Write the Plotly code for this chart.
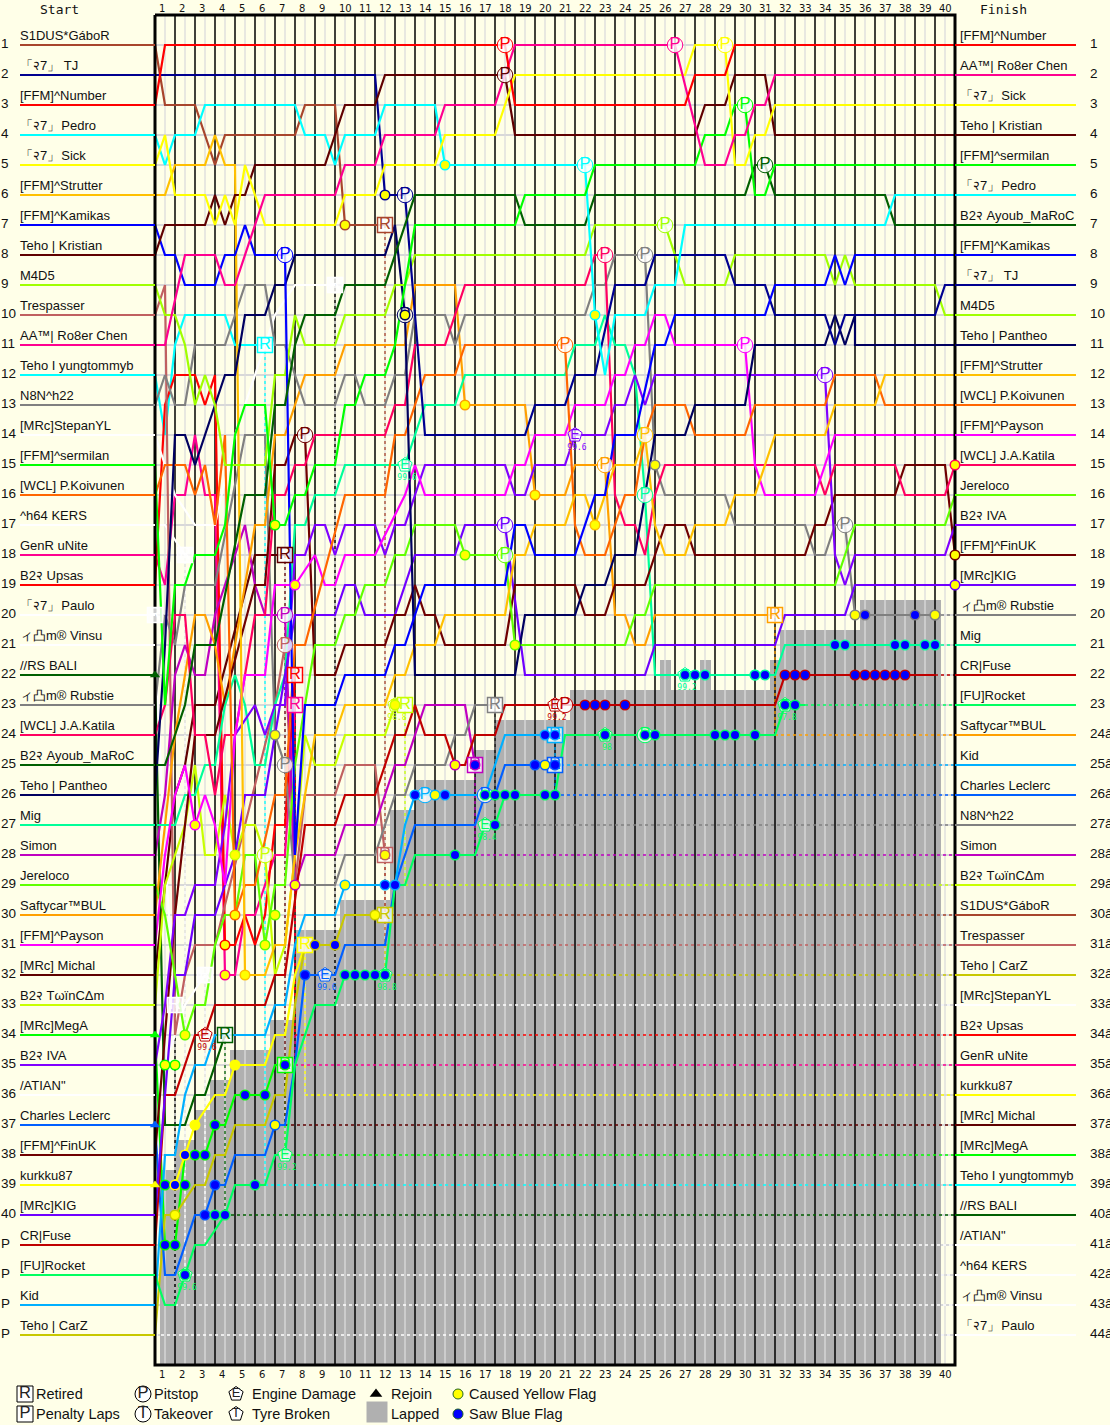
"""Lap chart: race positions per half lap for a 40 lap race."""
import plotly.graph_objects as go

CREAM = "#ffffe8"
LAPPED = "#b0b0b0"
NAME_FONT = "Liberation Sans"

start_names = [
    "S1DUS*GáboR", "「२7」 TJ", "[FFM]^Number", "「२7」\u200aPedro", "「२7」\u200aSick", "[FFM]^Strutter",
    "[FFM]^Kamikas", "Teho | Kristian", "M4D5", "Trespasser", "AA™| Ro8er Chen", "Teho I yungtommyb",
    "N8N^h22", "[MRc]StepanYL", "[FFM]^sermilan", "[WCL] P.Koivunen", "^h64 KERS", "GenR uNite",
    "B2२ Upsas", "「२7」\u200aPaulo", "ィ凸m® Vinsu", "//RS BALI", "ィ凸m® Rubstie", "[WCL] J.A.Katila",
    "B2२ Ayoub_MaRoC", "Teho | Pantheo", "Mig", "Simon", "Jereloco", "Saftycar™BUL",
    "[FFM]^Payson", "[MRc] Michal", "B2२ TωïnCΔm", "[MRc]MegA", "B2२ IVA", "/ATIAN\"",
    "Charles Leclerc", "[FFM]^FinUK", "kurkku87", "[MRc]KIG", "CR|Fuse", "[FU]Rocket",
    "Kid", "Teho | CarZ",
]
finish_names = [
    "[FFM]^Number", "AA™| Ro8er Chen", "「२7」\u200aSick", "Teho | Kristian", "[FFM]^sermilan", "「२7」\u200aPedro",
    "B2२ Ayoub_MaRoC", "[FFM]^Kamikas", "「२7」 TJ", "M4D5", "Teho | Pantheo", "[FFM]^Strutter",
    "[WCL] P.Koivunen", "[FFM]^Payson", "[WCL] J.A.Katila", "Jereloco", "B2२ IVA", "[FFM]^FinUK",
    "[MRc]KIG", "ィ凸m® Rubstie", "Mig", "CR|Fuse", "[FU]Rocket", "Saftycar™BUL",
    "Kid", "Charles Leclerc", "N8N^h22", "Simon", "B2२ TωïnCΔm", "S1DUS*GáboR",
    "Trespasser", "Teho | CarZ", "[MRc]StepanYL", "B2२ Upsas", "GenR uNite", "kurkku87",
    "[MRc] Michal", "[MRc]MegA", "Teho I yungtommyb", "//RS BALI", "/ATIAN\"", "^h64 KERS",
    "ィ凸m® Vinsu", "「२7」\u200aPaulo",
]

# paths: half lap index (0 = start, 80 = flag) and position at that half lap
number_k = [0, 1, 35, 36, 53, 54, 57, 58, 80]
number_r = [3, 1, 1, 3, 3, 2, 2, 1, 1]
gabor_k = [0, 1, 4, 6, 7, 14, 15, 18, 19, 23]
gabor_r = [1, 3, 3, 5, 4, 4, 3, 3, 7, 7]
kristian_k = [0, 1, 5, 6, 7, 8, 9, 10, 17, 19, 22, 23, 35, 36, 54, 55, 57, 58, 61, 62, 80]
kristian_r = [8, 7, 7, 6, 7, 6, 6, 5, 5, 3, 3, 2, 2, 4, 4, 3, 3, 2, 2, 4, 4]
tj_k = [0, 22, 23, 25, 27, 37, 38, 41, 42, 44, 46, 49, 50, 57, 58, 61, 62, 67, 68, 69, 78, 79, 80]
tj_r = [2, 2, 6, 6, 14, 14, 13, 13, 12, 12, 9, 9, 8, 8, 9, 9, 10, 10, 11, 10, 10, 9, 9]
pedro_k = [0, 1, 2, 4, 5, 14, 15, 17, 18, 19, 22, 23, 28, 29, 43, 44, 45, 46, 49, 50, 52, 53, 73, 74, 80]
pedro_r = [4, 5, 4, 4, 3, 3, 4, 4, 5, 4, 4, 3, 3, 5, 5, 10, 12, 10, 10, 9, 9, 7, 7, 6, 6]
sick_k = [0, 1, 2, 5, 6, 7, 8, 9, 10, 11, 18, 19, 22, 23, 28, 29, 34, 36, 53, 54, 57, 58, 59, 60, 61, 62, 80]
sick_r = [5, 4, 6, 6, 7, 6, 7, 5, 6, 7, 7, 6, 6, 5, 5, 4, 4, 2, 2, 1, 1, 5, 5, 4, 4, 3, 3]
strutter_k = [0, 1, 2, 5, 6, 7, 8, 9, 11, 12, 13, 14, 15, 16, 18, 19, 23, 24, 25, 26, 28, 29, 35, 36, 37, 38, 41,
              42, 43, 44, 45, 46, 48, 49, 50, 51, 53, 54, 57, 58, 60, 62, 67, 68, 72, 73, 80]
strutter_r = [6, 6, 5, 5, 4, 5, 5, 32, 32, 31, 31, 28, 26, 24, 24, 23, 23, 22, 22, 21, 21, 20, 20, 18, 18, 17, 17,
              16, 16, 17, 16, 15, 15, 14, 17, 18, 18, 17, 17, 16, 16, 14, 14, 13, 13, 12, 12]
kamikas_k = [0, 1, 2, 3, 6, 7, 8, 9, 10, 13, 14, 15, 18, 19, 23, 24, 25, 27, 35, 36, 37, 38, 42, 44, 45, 46, 48,
             50, 51, 52, 61, 62, 67, 68, 69, 70, 80]
kamikas_r = [7, 8, 8, 9, 9, 8, 8, 7, 8, 8, 28, 23, 23, 22, 22, 21, 21, 19, 19, 17, 17, 18, 18, 16, 16, 14, 14,
             11, 11, 10, 10, 9, 9, 8, 9, 8, 8]
m4d5_k = [0, 1, 2, 3, 4, 5, 6, 7, 8, 11, 12, 13, 14, 15, 18, 19, 23, 24, 25, 26, 43, 44, 51, 53, 57, 58, 67, 68,
          69, 70, 78, 79, 80]
m4d5_r = [9, 10, 10, 11, 13, 12, 13, 15, 15, 15, 12, 12, 10, 11, 11, 10, 10, 9, 9, 8, 8, 7, 7, 9, 9, 8, 8, 9,
          8, 9, 9, 10, 10]
trespasser_k = [0, 1, 2, 3, 4, 6, 12, 13, 14, 15, 18, 19, 22, 23]
trespasser_r = [10, 9, 34, 32, 31, 31, 23, 21, 29, 26, 26, 25, 25, 28]
roser_k = [0, 1, 3, 6, 7, 8, 11, 18, 19, 22, 23, 28, 29, 34, 36, 52, 55, 57, 58, 59, 60, 61, 62, 80]
roser_r = [11, 11, 8, 8, 9, 9, 6, 6, 5, 5, 4, 4, 3, 3, 1, 1, 5, 5, 4, 4, 3, 3, 2, 2]
yung_k = [0, 1, 2, 3, 7, 8, 11]
yung_r = [12, 14, 11, 10, 10, 11, 11]
n8n_k = [0, 1, 2, 3, 4, 7, 9, 11, 12, 13, 14, 15, 18, 19, 20, 21, 23, 24, 25, 26, 29, 30, 31, 43, 44, 45, 46, 49,
         50, 51, 57, 58, 65, 66, 67, 68, 69, 70, 78]
n8n_r = [13, 12, 13, 13, 11, 11, 9, 9, 11, 11, 12, 13, 13, 12, 12, 13, 13, 12, 12, 10, 10, 11, 10, 10, 9, 9, 8, 8,
         15, 16, 16, 17, 17, 18, 18, 17, 17, 20, 20]
stepan_k = [0, 2, 4, 6, 8, 11, 12, 14, 18]
stepan_r = [14, 16, 17, 17, 14, 11, 10, 9, 9]
sermilan_k = [0, 1, 2, 3, 4, 6, 7, 8, 9, 11, 12, 13, 14, 15, 16, 18, 19, 20, 21, 23, 24, 26, 36, 37, 43, 44, 54,
              55, 57, 58, 59, 60, 61, 62, 80]
sermilan_r = [15, 23, 19, 19, 18, 18, 17, 14, 13, 13, 17, 17, 16, 16, 15, 15, 13, 13, 12, 12, 11, 7, 7, 6, 6, 5, 5,
              4, 4, 3, 3, 6, 6, 5, 5]
koivunen_k = [0, 1, 3, 4, 5, 6, 7, 8, 9, 10, 12, 13, 14, 15, 19, 23, 24, 25, 27, 30, 31, 41, 42, 43, 45, 46, 47,
              48, 49, 50, 53, 54, 59, 60, 67, 68, 72, 73, 80]
koivunen_r = [16, 15, 15, 16, 15, 17, 14, 30, 29, 29, 26, 26, 21, 21, 16, 16, 14, 14, 12, 12, 11, 11, 17, 18, 18, 17, 16,
              16, 14, 13, 13, 14, 14, 13, 13, 12, 12, 13, 13]
kers_k = [0, 1, 3]
kers_r = [17, 17, 18]
genr_k = [0, 1, 2, 3, 4, 5, 6, 7, 8, 9, 10, 11, 12, 13, 14]
genr_r = [18, 19, 16, 16, 14, 16, 16, 32, 32, 30, 30, 29, 28, 28, 23]
upsas_k = [0, 1, 2, 4, 5, 6, 7, 8, 9, 10, 11, 12, 13, 14]
upsas_r = [19, 13, 12, 12, 13, 12, 31, 31, 30, 31, 30, 27, 27, 22]
paulo_k = [0]
paulo_r = [20]
vinsu_k = [0, 1, 2]
vinsu_r = [21, 28, 33]
bali_k = [0, 1, 3, 4, 5, 7]
bali_r = [22, 37, 37, 36, 36, 34]
rubstie_k = [0, 1, 2, 3, 6, 9, 11, 12, 13, 14, 18, 19, 22, 24, 25, 26, 29, 30, 31, 32, 34]
rubstie_r = [23, 20, 21, 19, 19, 14, 14, 24, 25, 29, 29, 28, 28, 26, 26, 25, 25, 24, 24, 23, 23]
katila_k = [0, 1, 2, 3, 4, 5, 6, 7, 8, 9, 10, 11, 12, 13, 14, 15, 16, 23, 24, 25, 26, 29, 31, 43, 44, 45, 46, 47,
            48, 49, 50, 51, 66, 67, 68, 74, 75, 79, 80]
katila_r = [24, 23, 20, 20, 24, 24, 26, 24, 24, 22, 20, 20, 16, 16, 15, 15, 14, 14, 13, 13, 11, 11, 9, 9, 8, 8, 16, 17,
            17, 18, 16, 15, 15, 16, 15, 15, 16, 16, 15]
ayoub_k = [0, 1, 2, 3, 4, 6, 9, 11, 12, 13, 14, 15, 18, 19, 23, 26, 36, 37, 43, 44, 59, 60, 61, 62, 73, 74, 80]
ayoub_r = [25, 25, 24, 23, 21, 21, 16, 16, 13, 13, 11, 10, 10, 9, 9, 6, 6, 7, 7, 6, 6, 5, 5, 6, 6, 7, 7]
pantheo_k = [0, 1, 2, 3, 4, 7, 8, 9, 11, 12, 13, 14, 23, 24, 25, 26, 36, 37, 42, 43, 45, 46, 48, 50, 53, 54, 59, 60,
             67, 68, 69, 70, 70, 80]
pantheo_r = [26, 21, 14, 14, 15, 12, 12, 10, 10, 9, 9, 8, 8, 7, 10, 22, 22, 20, 20, 19, 19, 18, 18, 14, 14, 13, 13, 11,
             11, 10, 11, 10, 11, 11]
mig_k = [0, 2, 3, 4, 5, 6, 7, 8, 9, 10, 11, 12, 13, 14, 15, 16, 18, 19, 25, 27, 30, 31, 41, 42, 44, 45, 46, 47,
         48, 49, 50, 62, 63, 78]
mig_r = [27, 27, 26, 26, 25, 25, 23, 22, 23, 25, 25, 23, 22, 17, 17, 16, 16, 15, 15, 13, 13, 12, 12, 11, 11, 10, 11, 11,
         12, 16, 22, 22, 21, 21]
simon_k = [0, 1, 2, 3, 4, 5, 6, 9, 10, 11, 13, 14, 15, 18, 19, 22, 24, 25, 26, 27, 31, 32]
simon_r = [28, 26, 22, 21, 22, 22, 20, 17, 19, 20, 20, 29, 28, 28, 27, 27, 25, 25, 24, 23, 23, 25]
jereloco_k = [0, 1, 2, 3, 4, 5, 6, 7, 8, 9, 10, 11, 12, 13, 14, 15, 16, 18, 19, 20, 21, 23, 24, 25, 26, 30, 31, 35,
              36, 47, 48, 49, 50, 68, 70, 79, 80]
jereloco_r = [29, 30, 32, 34, 33, 33, 31, 30, 30, 28, 28, 31, 29, 29, 25, 23, 21, 21, 20, 20, 19, 19, 18, 18, 17, 17, 18, 18,
              21, 21, 20, 20, 19, 19, 17, 17, 16]
saftycar_k = [0, 1, 2, 3, 4, 5, 6, 7, 10, 11, 12, 13, 15, 18, 19, 25, 26, 30, 31, 37, 38, 41, 42, 45, 46, 47, 48, 49,
              50, 62]
saftycar_r = [30, 27, 24, 22, 20, 20, 21, 23, 17, 17, 14, 14, 12, 12, 11, 11, 9, 9, 13, 13, 16, 16, 15, 15, 20, 20, 21, 21,
              20, 20]
payson_k = [0, 1, 2, 3, 4, 5, 6, 7, 8, 9, 11, 12, 14, 16, 17, 18, 19, 22, 25, 26, 27, 35, 36, 37, 38, 41, 42, 45, 46,
            47, 48, 49, 50, 51, 52, 59, 60, 61, 66, 67, 68, 80]
payson_r = [31, 28, 26, 25, 27, 26, 27, 29, 24, 22, 22, 19, 19, 18, 19, 19, 18, 18, 16, 15, 16, 16, 15, 15, 14, 14, 13, 13, 12,
            12, 11, 11, 10, 10, 11, 11, 15, 16, 16, 15, 14, 14]
michal_k = [0, 1, 2, 3, 4, 6, 10, 13]
michal_r = [32, 29, 26, 25, 23, 23, 18, 18]
twincam_k = [0, 1, 2, 3, 4, 5, 6, 7, 8, 9, 10, 11, 12, 13, 14, 15, 16, 18, 19, 23, 24, 25]
twincam_r = [33, 29, 28, 27, 25, 28, 28, 26, 28, 27, 27, 28, 32, 31, 28, 24, 25, 25, 24, 24, 23, 23]
mega_k = [0, 1, 2, 3, 5, 6, 7, 8, 11, 12, 13]
mega_r = [34, 41, 41, 38, 38, 37, 37, 36, 36, 35, 35]
iva_k = [0, 1, 2, 3, 4, 6, 7, 8, 10, 11, 12, 13, 14, 15, 16, 17, 18, 19, 22, 23, 24, 25, 26, 27, 35, 36, 37, 38, 41, 42,
         45, 46, 47, 48, 49, 50, 67, 68, 69, 70, 79, 80]
iva_r = [35, 33, 30, 30, 29, 29, 27, 24, 23, 24, 23, 23, 18, 18, 17, 17, 18, 17, 17, 18, 17, 17, 16, 15, 15, 16, 16, 15, 15, 14,
         14, 13, 13, 12, 13, 12, 12, 18, 19, 18, 18, 17]
atian_k = [0, 3, 5]
atian_r = [36, 33, 32]
leclerc_k = [0, 1, 2, 4, 5, 6, 7, 8, 11, 12, 13, 14, 15, 18, 19, 23, 24, 25, 26, 32, 33, 34, 35, 40]
leclerc_r = [37, 42, 42, 40, 40, 39, 39, 38, 38, 37, 37, 35, 32, 32, 31, 31, 29, 28, 27, 27, 26, 26, 25, 25]
finuk_k = [0, 1, 2, 3, 4, 6, 10, 11, 12, 13, 14, 15, 16, 18, 19, 23, 24, 25, 26, 27, 28, 29, 35, 36, 42, 43, 45, 46, 49,
           50, 51, 53, 54, 65, 66, 67, 68, 74, 75, 79, 80]
finuk_r = [38, 34, 30, 27, 24, 24, 19, 19, 15, 15, 14, 14, 22, 22, 21, 21, 20, 20, 19, 20, 20, 21, 21, 19, 19, 20, 20, 19, 19,
           18, 17, 17, 18, 18, 17, 17, 16, 16, 15, 15, 18]
kurkku_k = [0, 2, 4, 6, 7, 8, 11, 12, 13, 14, 15]
kurkku_r = [39, 39, 37, 36, 36, 35, 35, 34, 34, 32, 31]
kig_k = [0, 1, 2, 3, 4, 6, 7, 8, 9, 11, 12, 14, 18, 19, 20, 21, 24, 25, 26, 30, 31, 35, 37, 49, 50, 62, 63, 69, 70, 80]
kig_r = [40, 36, 32, 32, 30, 30, 29, 28, 26, 26, 24, 20, 20, 19, 19, 20, 20, 19, 18, 18, 17, 17, 22, 22, 21, 21, 20, 20, 19, 19]
fuse_k = [0, 1, 2, 4, 5, 6, 11, 12, 13, 15, 18, 19, 22, 24, 25, 26, 27, 29, 30, 31, 32, 34, 35, 62, 63, 78]
fuse_r = [41, 36, 36, 34, 34, 33, 33, 32, 32, 27, 27, 26, 26, 24, 24, 23, 24, 24, 25, 25, 24, 24, 23, 23, 22, 22]
rocket_k = [0, 1, 2, 4, 5, 7, 8, 11, 12, 13, 14, 16, 18, 19, 23, 24, 25, 26, 32, 33, 34, 35, 40, 41, 62, 63, 65]
rocket_r = [42, 43, 43, 41, 41, 40, 39, 39, 38, 38, 35, 33, 33, 32, 32, 29, 29, 28, 28, 27, 27, 26, 26, 24, 24, 23, 23]
kid_k = [0, 1, 2, 3, 4, 5, 6, 11, 12, 13, 14, 15, 18, 19, 24, 25, 26, 33, 34, 35, 40]
kid_r = [43, 38, 38, 36, 35, 35, 34, 34, 33, 33, 31, 30, 30, 29, 29, 27, 26, 26, 25, 24, 24]
carz_k = [0, 1, 2, 4, 5, 6, 7, 8, 11, 12, 13, 14, 15, 18, 19, 23]
carz_r = [44, 40, 40, 39, 39, 38, 38, 37, 37, 36, 36, 33, 31, 31, 30, 30]

# lapped area: left and right edge (half laps) and top (position) of each step
lapped_left = [0.5, 2, 4, 5.5, 7.5, 11.5, 14, 18.5, 23.5, 26, 32, 34, 41.5, 50.5, 51.6, 54.5, 55.6, 61.5, 62.5, 70.5]
lapped_right = [2, 4, 5.5, 7.5, 11.5, 14, 18.5, 23.5, 26, 32, 34, 41.5, 50.5, 51.6, 54.5, 55.6, 61.5, 62.5, 70.5, 78.6]
lapped_top = [38.5, 37.5, 36.5, 35.5, 34.5, 33.5, 30.5, 29.5, 26.5, 25.5, 24.5, 23.5, 22.5, 21.5, 22.5, 21.5, 22.5, 21.5, 20.5, 19.5]

# events: driver, half lap, position
pit_who = ["Kamikas", "TJ", "Pantheo", "FinUK", "Simon", "Trespasser", "Rubstie", "TwinCAm", "Number", "Kristian",
           "Roser", "Sick", "Sermilan", "Pedro", "Ayoub", "M4D5", "Katila", "N8N", "Koivunen", "Payson", "Saftycar",
           "Strutter", "Mig", "KIG", "Jereloco", "IVA", "N8N", "Fuse", "Kid", "Leclerc", "Rocket"]
pit_k = [13, 25, 25, 15, 13, 13, 13, 11, 35, 35, 52, 57, 59, 43, 61, 51, 45, 49, 41, 59, 45, 49, 49, 35, 35, 67, 69, 41, 27, 33, 49]
pit_r = [8, 6, 10, 14, 20, 21, 25, 28, 1, 2, 1, 1, 3, 5, 5, 7, 8, 8, 11, 11, 15, 14, 16, 17, 18, 12, 17, 23, 26, 26, 24]
ret_who = ["Gabor", "Yung", "Michal", "Upsas", "GenR", "TwinCAm", "Trespasser", "CarZ", "Kurkku", "MegA", "BALI", "Stepan",
           "KERS", "Paulo", "Vinsu", "ATIAN", "Rubstie", "Simon", "Kid", "Leclerc", "Saftycar"]
engine_who = ["Mig", "IVA", "Leclerc", "Rocket", "Rocket", "Rocket", "Fuse", "Fuse", "Rocket", "Rocket", "Rocket", "TwinCAm", "Mig"]
engine_k = [25, 42, 17, 23, 13, 3, 5, 40, 33, 45, 63, 24, 53]
engine_r = [15, 14, 32, 32, 38, 42, 34, 23, 27, 24, 23, 23, 22]
engine_pct = ["99.6", "99.6", "99.6", "98.8", "99.2", "99.6", "99.6", "99.2", "98.4", "98", "97.8", "98.8", "99.2"]
yellow_who = ["Pedro", "Pedro", "Saftycar", "Saftycar", "Jereloco", "Strutter", "Jereloco", "N8N", "Katila", "FinUK", "KIG",
              "N8N", "N8N", "Simon", "Kid", "Leclerc", "Sermilan", "Payson", "TJ", "Gabor", "Pantheo", "Trespasser", "TwinCAm",
              "Kid", "CarZ", "Jereloco", "Mega", "Mega", "Kurkku", "Kurkku", "Leclerc", "CarZ", "Payson", "TwinCAm", "Koivunen",
              "Upsas", "GenR", "Strutter", "Rubstie", "Jereloco", "Jereloco", "Simon"]
yellow_k = [29, 44, 31, 38, 31, 44, 36, 50, 80, 80, 80, 70, 78, 30, 28, 39, 12, 14, 23, 19, 25, 23, 24, 19, 22, 3, 1, 2, 8, 4,
            12, 2, 4, 8, 8, 7, 7, 9, 12, 12, 11, 14]
yellow_r = [5, 10, 13, 16, 18, 17, 21, 15, 15, 18, 19, 20, 20, 25, 26, 25, 17, 19, 6, 7, 10, 28, 23, 29, 30, 34, 35, 35, 35, 37,
            37, 40, 27, 28, 30, 31, 32, 32, 24, 30, 31, 29]
blue_who = ["Mega", "Kurkku", "Mega", "Mega", "Mega", "Kurkku", "Mega", "Mega", "Mega", "Leclerc", "Rocket", "Leclerc",
            "Rocket", "Rocket", "Mega", "Mega", "Rocket", "Mega", "Leclerc", "CarZ", "CarZ", "Rocket", "Rocket", "Rocket",
            "Rocket", "Rocket", "Kid", "Kid", "Kid", "Kid", "Rocket", "Rocket", "Rocket", "Rocket", "Rocket", "Rocket",
            "Rocket", "Rocket", "Kid", "Kid", "Rocket", "Rocket", "Rocket", "Rocket", "Rocket", "Rocket", "Rocket",
            "Simon", "Leclerc", "Leclerc", "Fuse", "Fuse", "Fuse", "Fuse", "Rocket", "Rocket", "Fuse", "Fuse", "Fuse",
            "Fuse", "Fuse", "Fuse", "Fuse", "Fuse", "Fuse", "Mig", "Mig", "Mig", "Mig", "Mig", "Mig", "Mig", "Mig",
            "Mig", "Mig", "Mig", "Mig", "Rubstie", "Rubstie", "Rubstie"]
blue_k = [1, 2, 3, 1, 2, 3, 4, 5, 6, 6, 3, 5, 6, 7, 9, 11, 10, 13, 15, 16, 18, 19, 20, 21, 22, 23, 23, 24, 26, 29, 33, 34, 35,
          36, 39, 40, 34, 30, 39, 40, 45, 49, 50, 56, 57, 58, 60, 32, 38, 40, 43, 44, 45, 47, 63, 64, 63, 64, 65, 70, 71, 72,
          73, 74, 75, 60, 61, 53, 54, 55, 60, 68, 69, 74, 75, 77, 78, 71, 76, 78]
blue_r = [39, 39, 39, 41, 41, 38, 38, 38, 37, 39, 42, 40, 40, 40, 36, 36, 39, 35, 32, 31, 31, 32, 32, 32, 32, 32, 29, 29, 26, 26,
          26, 26, 26, 26, 26, 26, 27, 28, 24, 24, 24, 24, 24, 24, 24, 24, 24, 25, 25, 25, 23, 23, 23, 23, 23, 23, 22, 22, 22,
          22, 22, 22, 22, 22, 22, 22, 22, 22, 22, 22, 22, 21, 21, 21, 21, 21, 21, 20, 20, 20]
rejoin_who = ["BALI", "MegA", "Leclerc", "Kurkku"]
rejoin_r = [22, 34, 37, 39]

colors = {
    "Number": "#ff0000", "Gabor": "#a8452c", "TJ": "#000090", "Pedro": "#00ffff", "Sick": "#ffff00",
    "Strutter": "#ffc000", "Kamikas": "#0000ff", "Kristian": "#600000", "M4D5": "#a0ff00", "Trespasser": "#c06060",
    "Roser": "#ff0090", "Yung": "#00ffff", "N8N": "#808080", "Stepan": "#ffffff", "Sermilan": "#00ff00",
    "Koivunen": "#ff6600", "KERS": "#ffffff", "GenR": "#ff0090", "Upsas": "#ff0000", "Paulo": "#ffffff",
    "Vinsu": "#ffffff", "BALI": "#006000", "Rubstie": "#808080", "Katila": "#ff0060", "Ayoub": "#006000",
    "Pantheo": "#000060", "Mig": "#00ff99", "Simon": "#c000c0", "Jereloco": "#60ff00", "Saftycar": "#ffa000",
    "Payson": "#ff00ff", "Michal": "#600000", "TwinCAm": "#c8ff00", "MegA": "#00ff00", "Mega": "#00ff00",
    "IVA": "#8000ff", "ATIAN": "#ffffff", "Leclerc": "#0060ff", "FinUK": "#700000", "Kurkku": "#ffff00",
    "KIG": "#7000ff", "Fuse": "#c00000", "Rocket": "#00ff60", "Kid": "#00b0ff", "CarZ": "#c8c800",
}

drivers = [
    ("Paulo", "「२7」\u200aPaulo", paulo_k, paulo_r), ("Vinsu", "ィ凸m® Vinsu", vinsu_k, vinsu_r),
    ("KERS", "^h64 KERS", kers_k, kers_r), ("ATIAN", "/ATIAN\"", atian_k, atian_r),
    ("BALI", "//RS BALI", bali_k, bali_r), ("Yung", "Teho I yungtommyb", yung_k, yung_r),
    ("MegA", "[MRc]MegA", mega_k, mega_r), ("Michal", "[MRc] Michal", michal_k, michal_r),
    ("Kurkku", "kurkku87", kurkku_k, kurkku_r), ("GenR", "GenR uNite", genr_k, genr_r),
    ("Upsas", "B2२ Upsas", upsas_k, upsas_r), ("Stepan", "[MRc]StepanYL", stepan_k, stepan_r),
    ("CarZ", "Teho | CarZ", carz_k, carz_r), ("Trespasser", "Trespasser", trespasser_k, trespasser_r),
    ("Gabor", "S1DUS*GáboR", gabor_k, gabor_r), ("TwinCAm", "B2२ TωïnCΔm", twincam_k, twincam_r),
    ("Simon", "Simon", simon_k, simon_r), ("Rubstie", "N8N^h22", rubstie_k, rubstie_r),
    ("Leclerc", "Charles Leclerc", leclerc_k, leclerc_r), ("Kid", "Kid", kid_k, kid_r),
    ("Saftycar", "Saftycar™BUL", saftycar_k, saftycar_r), ("Rocket", "[FU]Rocket", rocket_k, rocket_r),
    ("Fuse", "CR|Fuse", fuse_k, fuse_r), ("Mig", "Mig", mig_k, mig_r),
    ("N8N", "ィ凸m® Rubstie", n8n_k, n8n_r), ("KIG", "[MRc]KIG", kig_k, kig_r),
    ("FinUK", "[FFM]^FinUK", finuk_k, finuk_r), ("IVA", "B2२ IVA", iva_k, iva_r),
    ("Jereloco", "Jereloco", jereloco_k, jereloco_r), ("Katila", "[WCL] J.A.Katila", katila_k, katila_r),
    ("Payson", "[FFM]^Payson", payson_k, payson_r), ("Koivunen", "[WCL] P.Koivunen", koivunen_k, koivunen_r),
    ("Strutter", "[FFM]^Strutter", strutter_k, strutter_r), ("Pantheo", "Teho | Pantheo", pantheo_k, pantheo_r),
    ("M4D5", "M4D5", m4d5_k, m4d5_r), ("TJ", "「२7」 TJ", tj_k, tj_r),
    ("Kamikas", "[FFM]^Kamikas", kamikas_k, kamikas_r), ("Ayoub", "B2२ Ayoub_MaRoC", ayoub_k, ayoub_r),
    ("Pedro", "「२7」\u200aPedro", pedro_k, pedro_r), ("Sermilan", "[FFM]^sermilan", sermilan_k, sermilan_r),
    ("Kristian", "Teho | Kristian", kristian_k, kristian_r), ("Sick", "「२7」\u200aSick", sick_k, sick_r),
    ("Roser", "AA™| Ro8er Chen", roser_k, roser_r), ("Number", "[FFM]^Number", number_k, number_r),
]
name_color = {label: colors[key] for key, label, _, _ in drivers}
path_of = {key: (k, r) for key, _, k, r in drivers}


def px_x(px):
    return (px - 155) / 10


def px_y(py):
    return (py - 15) / 30


def text_trace(xs, ys, texts, size, family=NAME_FONT, color="#111111", pos="middle right"):
    return go.Scatter(x=xs, y=ys, text=texts, mode="text", textposition=pos, cliponaxis=False,
                      textfont=dict(size=size, family=family, color=color), hoverinfo="skip")


fig = go.Figure()

# lapped staircase, below everything drawn as a scatter
fig.add_trace(go.Bar(
    x=[(a + b) / 2 for a, b in zip(lapped_left, lapped_right)],
    width=[b - a for a, b in zip(lapped_left, lapped_right)],
    base=lapped_top, y=[45 - t for t in lapped_top],
    marker=dict(color=LAPPED, line=dict(width=0)), hoverinfo="skip",
))

# row guide lines sit under the grey, lap lines over it
for row in range(1, 45):
    fig.add_shape(type="line", x0=0, x1=80, y0=row, y1=row, layer="below", line=dict(color="#d8d8d8", width=2))

odd_x, odd_y, even_x, even_y = [], [], [], []
for k in range(1, 80):
    xs, ys = (odd_x, odd_y) if k % 2 else (even_x, even_y)
    xs += [k, k, None]
    ys += [0, 45, None]
fig.add_trace(go.Scatter(x=odd_x, y=odd_y, mode="lines", line=dict(color="#dcdcdc", width=1.3), hoverinfo="skip"))
fig.add_trace(go.Scatter(x=even_x, y=even_y, mode="lines", line=dict(color="#000000", width=1.5), hoverinfo="skip"))

# retired and lapped cars: dotted to the finishing position
for key, label, k, r in drivers:
    finish_row = finish_names.index(label) + 1
    if k[-1] < 80:
        fig.add_trace(go.Scatter(x=[k[-1], k[-1], 80], y=[r[-1], finish_row, finish_row], mode="lines",
                                 line=dict(color=colors[key], width=1.3, dash="dot"), hoverinfo="skip"))

for key, label, k, r in drivers:
    if len(k) > 1:
        fig.add_trace(go.Scatter(x=k, y=r, mode="lines", line=dict(color=colors[key], width=2.2, simplify=False),
                                 hoverinfo="skip"))

# frame
fig.add_trace(go.Scatter(x=[0, 80, 80, 0, 0], y=[0, 0, 45, 45, 0], mode="lines",
                         line=dict(color="#000000", width=3), hoverinfo="skip"))

# start and finish stubs
for i, name in enumerate(start_names):
    fig.add_trace(go.Scatter(x=[px_x(20), 0], y=[i + 1, i + 1], mode="lines", cliponaxis=False,
                             line=dict(color=name_color[name], width=2.2), hoverinfo="skip"))
for i, name in enumerate(finish_names):
    fig.add_trace(go.Scatter(x=[80, px_x(1076)], y=[i + 1, i + 1], mode="lines", cliponaxis=False,
                             line=dict(color=name_color[name], width=2.2), hoverinfo="skip"))

# event markers: badges first, flag dots over them as in the original
fig.add_trace(go.Scatter(
    x=[0] * len(rejoin_who), y=rejoin_r, mode="markers", hoverinfo="skip", cliponaxis=False,
    marker=dict(symbol="triangle-up", size=9, color=[colors[w] for w in rejoin_who], line=dict(width=0)),
))
fig.add_trace(go.Scatter(
    x=engine_k, y=engine_r, mode="markers+text", text=["E"] * len(engine_k), textposition="middle center", hoverinfo="skip",
    marker=dict(symbol="pentagon", size=15, color="rgba(255,255,255,0.75)",
                line=dict(width=1, color=[colors[w] for w in engine_who])),
    textfont=dict(size=14, family=NAME_FONT, color=[colors[w] for w in engine_who]),
))
fig.add_trace(text_trace([k + 0.2 for k in engine_k], [r + 0.42 for r in engine_r], engine_pct, 8,
                         family="DejaVu Sans Mono", color=[colors[w] for w in engine_who], pos="middle center"))
fig.add_trace(go.Scatter(
    x=pit_k, y=pit_r, mode="markers+text", text=["P"] * len(pit_k), textposition="middle center", hoverinfo="skip",
    marker=dict(size=15.5, color="rgba(255,255,255,0.8)", line=dict(width=1, color=[colors[w] for w in pit_who])),
    textfont=dict(size=16.5, family=NAME_FONT, color=[colors[w] for w in pit_who]),
))
ret_k = [path_of[w][0][-1] for w in ret_who]
ret_r = [path_of[w][1][-1] for w in ret_who]
fig.add_trace(go.Scatter(
    x=ret_k, y=ret_r, mode="markers+text", text=["R"] * len(ret_who), textposition="middle center", hoverinfo="skip",
    marker=dict(symbol="square", size=15, color="rgba(255,255,255,0.8)", line=dict(width=1.5, color=[colors[w] for w in ret_who])),
    textfont=dict(size=16.5, family=NAME_FONT, color=[colors[w] for w in ret_who]),
))
fig.add_trace(go.Scatter(
    x=blue_k, y=blue_r, mode="markers", hoverinfo="skip",
    marker=dict(size=9.5, color="#0000ff", line=dict(width=1.5, color=[colors[w] for w in blue_who])),
))
fig.add_trace(go.Scatter(
    x=yellow_k, y=yellow_r, mode="markers", hoverinfo="skip", cliponaxis=False,
    marker=dict(size=9.5, color="#ffff00", line=dict(width=1.5, color=[colors[w] for w in yellow_who])),
))

# names and position numbers
rows = list(range(1, 45))
fig.add_trace(text_trace([px_x(20)] * 44, [r - 0.27 for r in rows], start_names, 13))
fig.add_trace(text_trace([px_x(960)] * 44, [r - 0.27 for r in rows], finish_names, 13))
left_numbers = [str(r) for r in rows[:40]] + ["P"] * 4
right_numbers = [str(r) for r in rows[:23]] + [f"{r}â" for r in rows[23:]]
fig.add_trace(text_trace([px_x(1)] * 44, rows, left_numbers, 13.5))
fig.add_trace(text_trace([px_x(1090)] * 44, rows, right_numbers, 13.5))

# lap numbers and column titles
lap_labels = [str(n) for n in range(1, 41)]
fig.add_trace(text_trace([px_x(159 + 20 * i) for i in range(40)], [px_y(9)] * 40, lap_labels, 10, family="DejaVu Sans"))
fig.add_trace(text_trace([px_x(159 + 20 * i) for i in range(40)], [px_y(1375)] * 40, lap_labels, 10, family="DejaVu Sans"))
fig.add_trace(text_trace([px_x(40), px_x(980)], [px_y(10.5)] * 2, ["Start", "Finish"], 13, family="DejaVu Sans Mono"))

# legend
legend_y = [px_y(1394), px_y(1414)]
fig.add_trace(go.Scatter(
    x=[px_x(25)] * 2, y=legend_y, mode="markers+text", text=["R", "P"], textposition="middle center", hoverinfo="skip",
    marker=dict(symbol="square", size=16, color="#ffffff", line=dict(width=1, color="#000000")),
    textfont=dict(size=16.5, family=NAME_FONT, color="#222222"), cliponaxis=False,
))
fig.add_trace(go.Scatter(
    x=[px_x(143)] * 2, y=legend_y, mode="markers+text", text=["P", "T"], textposition="middle center", hoverinfo="skip",
    marker=dict(size=16, color="#ffffff", line=dict(width=1, color="#000000")),
    textfont=dict(size=16.5, family=NAME_FONT, color="#222222"), cliponaxis=False,
))
fig.add_trace(go.Scatter(
    x=[px_x(236)] * 2, y=legend_y, mode="markers+text", text=["E", "T"], textposition="middle center", hoverinfo="skip",
    marker=dict(symbol="pentagon", size=15, color="#ffffff", line=dict(width=1, color="#000000")),
    textfont=dict(size=13, family=NAME_FONT, color="#222222"), cliponaxis=False,
))
fig.add_trace(go.Scatter(x=[px_x(376)], y=[legend_y[0]], mode="markers", hoverinfo="skip", cliponaxis=False,
                         marker=dict(symbol="triangle-up", size=11, color="#000000", line=dict(width=0))))
fig.add_trace(go.Scatter(x=[px_x(377)], y=[px_y(1412)], mode="markers", hoverinfo="skip", cliponaxis=False,
                         marker=dict(symbol="square", size=21, color=LAPPED, line=dict(width=0))))
fig.add_trace(go.Scatter(x=[px_x(458)] * 2, y=legend_y, mode="markers", hoverinfo="skip", cliponaxis=False,
                         marker=dict(size=10, color=["#ffff00", "#0000ff"], line=dict(width=1, color="#226622"))))
legend_text = ["Retired", "Penalty Laps", "Pitstop", "Takeover", "Engine Damage", "Tyre Broken", "Rejoin", "Lapped",
               "Caused Yellow Flag", "Saw Blue Flag"]
legend_px = [36, 36, 154, 154, 252, 252, 391, 391, 469, 469]
fig.add_trace(text_trace([px_x(p) for p in legend_px], [y + 0.03 for y in legend_y] * 5, legend_text, 14.5))

fig.update_layout(
    width=1110, height=1425, margin=dict(l=0, r=0, t=0, b=0), showlegend=False,
    paper_bgcolor=CREAM, plot_bgcolor=CREAM, hovermode=False, bargap=0,
    xaxis=dict(range=[px_x(0), px_x(1110)], visible=False, fixedrange=True),
    yaxis=dict(range=[px_y(1425), px_y(0)], visible=False, fixedrange=True),
)
fig.write_html("out.html", post_script="document.body.style.margin='0';",
               config=dict(displayModeBar=False))
